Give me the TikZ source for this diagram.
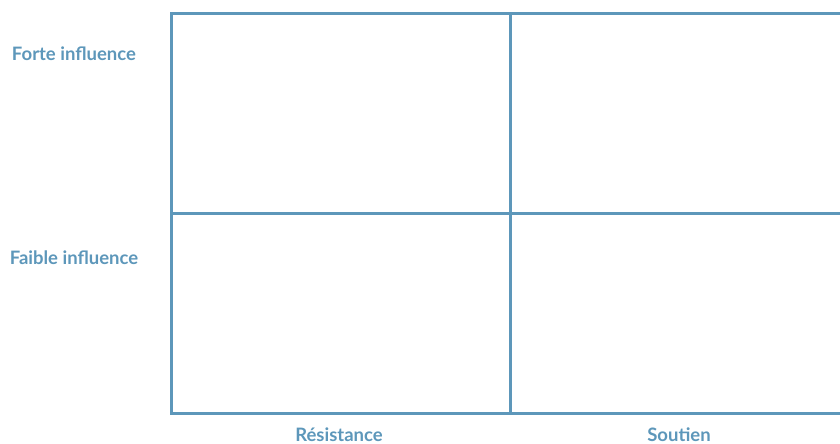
\documentclass[tikz,border=0pt]{standalone}
\usepackage{fontspec}
\setmainfont{Lato}
\usetikzlibrary{positioning}
\definecolor{gridblue}{RGB}{93,151,186}

\begin{document}
\begin{tikzpicture}[
  x=1pt, y=-1pt,
  cell/.style={draw=gridblue, line width=2.6pt, minimum width=339pt, minimum height=200pt, inner sep=0pt, anchor=north west},
  axislabel/.style={text=gridblue, font=\fontsize{18.5}{22}\selectfont\bfseries}
]
\useasboundingbox (0,0) rectangle (840,444);
% quadrants
\node[cell] (resforte) at (170,12) {};
\node[cell] (soutforte) at (509,12) {};
\node[cell] (resfaible) at (170,212) {};
\node[cell] (soutfaible) at (509,212) {};
% labels
\node[axislabel] (forte) at (74,54) {Forte influence};
\node[axislabel] (faible) at (74,258) {Faible influence};
\node[axislabel] (resistance) at (339,434.5) {Résistance};
\node[axislabel] (soutien) at (679,434.5) {Soutien};
\end{tikzpicture}
\end{document}
